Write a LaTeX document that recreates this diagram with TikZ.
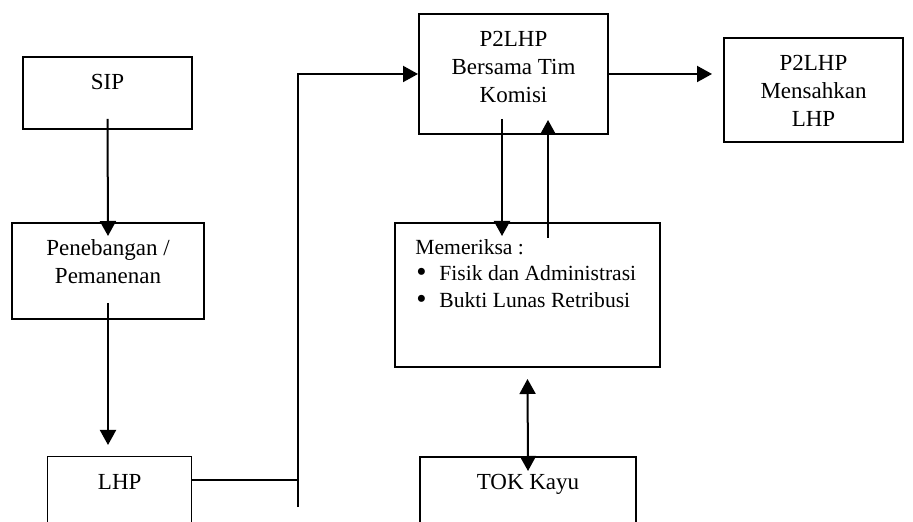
\documentclass[tikz,border=0pt]{standalone}
\usepackage{fontspec}
\setmainfont{Liberation Serif}
\usetikzlibrary{arrows.meta,calc}

\tikzset{
  box/.style={draw, line width=1pt, anchor=north west, inner sep=0pt},
  lbl/.style={anchor=north, yshift=-9pt, inner sep=0pt, align=center,
    font=\fontsize{11.5}{14}\selectfont},
  arr/.style={line width=1pt, -{Triangle[length=7.5pt,width=8pt]}},
  dblarr/.style={line width=1pt, {Triangle[length=7.5pt,width=8pt]}-{Triangle[length=7.5pt,width=8pt]}},
}
\newcommand{\itembul}{\makebox[12pt][l]{\hspace{0.5pt}\raisebox{-0.4pt}{\scalebox{1.35}{\textbullet}}}}

\begin{document}
\begin{tikzpicture}[x=0.5pt, y=-0.5pt]
  \path[use as bounding box, clip] (0,0) rectangle (913,522);

  % left column
  \node[box, minimum width=84.5pt, minimum height=36pt, label={[lbl]north:SIP}] (sip) at (22,56) {};
  \node[box, minimum width=96pt, minimum height=48pt,
    label={[lbl, yshift=0.5pt]north:Penebangan /\\Pemanenan}] (pen) at (11,222) {};
  \node[box, line width=0.7pt, minimum width=72pt, minimum height=45pt,
    label={[lbl]north:LHP}] (lhp) at (47,456) {};

  % right part
  \node[box, minimum width=94.5pt, minimum height=60pt,
    label={[lbl]north:P2LHP\\Bersama Tim\\Komisi}] (p2lhp) at (418,13) {};
  \node[box, minimum width=89.5pt, minimum height=52pt,
    label={[lbl]north:P2LHP\\Mensahkan\\LHP}] (sah) at (723,37) {};
  \node[box, minimum width=132.5pt, minimum height=72pt,
    label={[lbl, anchor=north west, xshift=10.5pt, yshift=0.5pt, align=left,
      font=\fontsize{10.8}{13.3}\selectfont]north west:Memeriksa :\\
      \itembul Fisik dan Administrasi\\
      \itembul Bukti Lunas Retribusi}] (cek) at (394,222) {};
  \node[box, minimum width=108pt, minimum height=45pt,
    label={[lbl]north:TOK Kayu}] (tok) at (419,456) {};

  \coordinate (bus) at (298,507);
  \coordinate (lhpout) at ([yshift=-12pt]lhp.north east);
  \coordinate (dn) at ([xshift=-5.75pt]p2lhp.south);
  \coordinate (up) at ([xshift=17.25pt]p2lhp.south);

  % connectors
  \draw[arr] ([yshift=5.5pt]sip.south) -- ($(pen.north)+(0,-7pt)$);
  \draw[arr] ([yshift=8.5pt]pen.south) -- ($(lhp.north -| pen.south)+(0,5.5pt)$);
  \draw[line width=0.7pt] (lhpout) -- (lhpout -| bus);
  \draw[arr] (bus) -- (bus |- p2lhp.west) -- (p2lhp.west);
  \draw[arr] (p2lhp.east) -- ($(p2lhp.east -| sah.west)+(-5.5pt,0)$);
  \draw[arr] ($(dn)+(0,8pt)$) -- ($(dn |- cek.north)+(0,-7pt)$);
  \draw[arr] ($(up |- cek.north)+(0,-8pt)$) -- ($(up)+(0,7.5pt)$);
  \draw[dblarr] ($(cek.south)+(0,-5.5pt)$) -- ($(tok.north)+(0,-7.5pt)$);
\end{tikzpicture}
\end{document}
